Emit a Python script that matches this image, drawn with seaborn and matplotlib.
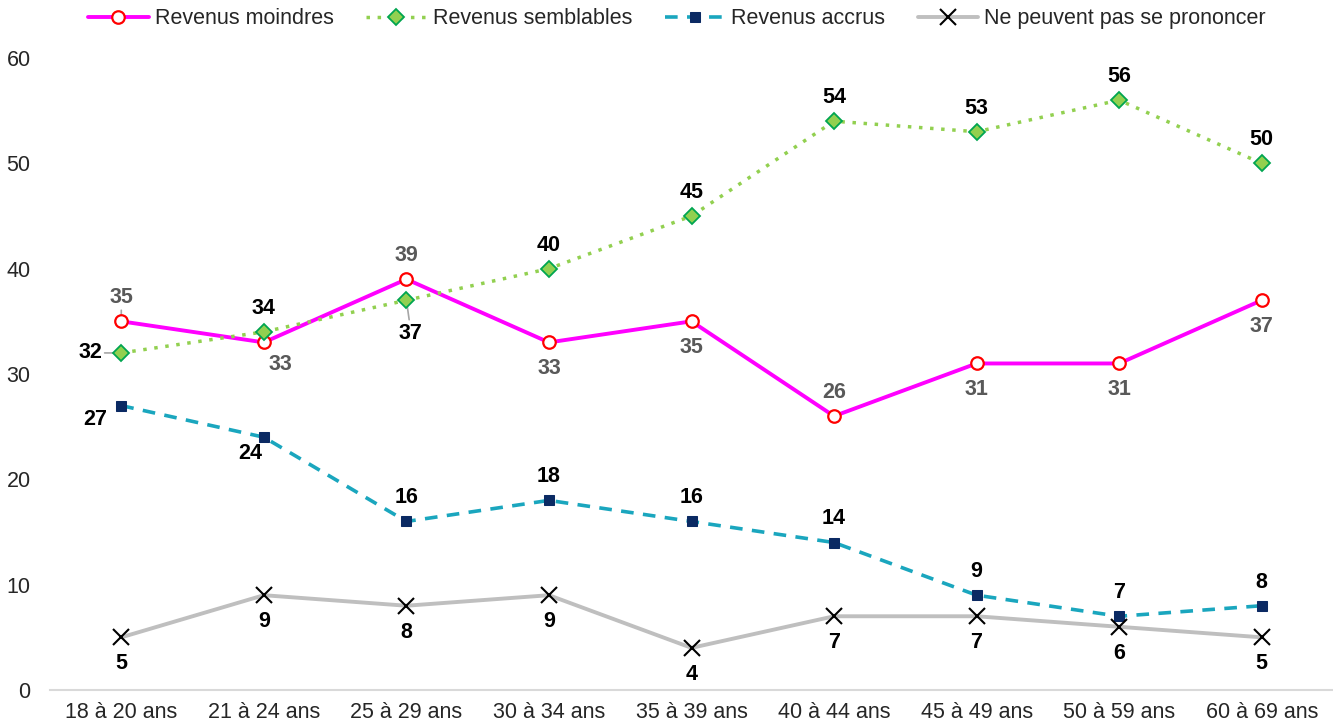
import matplotlib
matplotlib.use("Agg")
import matplotlib.pyplot as plt
import seaborn as sns
import pandas as pd
import numpy as np

categories = ["18 à 20 ans", "21 à 24 ans", "25 à 29 ans", "30 à 34 ans", "35 à 39 ans",
              "40 à 44 ans", "45 à 49 ans", "50 à 59 ans", "60 à 69 ans"]
moindres = [35, 33, 39, 33, 35, 26, 31, 31, 37]
semblables = [32, 34, 37, 40, 45, 54, 53, 56, 50]
accrus = [27, 24, 16, 18, 16, 14, 9, 7, 8]
nsp = [5, 9, 8, 9, 4, 7, 7, 6, 5]
series_names = ["Revenus moindres", "Revenus semblables", "Revenus accrus", "Ne peuvent pas se prononcer"]
y_ticks = [0, 10, 20, 30, 40, 50, 60]

sns.set_theme(style="white")
plt.rcParams['font.family'] = ['Liberation Sans', 'DejaVu Sans']

FS = 15.5

fig = plt.figure(figsize=(13.33, 7.26), dpi=100)
ax = fig.add_axes([50/1333, 36/726, 1 - 50/1333, (690-58)/726])

x = np.arange(len(categories))
df = pd.DataFrame({"x": x, "moindres": moindres, "semblables": semblables,
                   "accrus": accrus, "nsp": nsp})

sns.lineplot(data=df, x="x", y="moindres", ax=ax, color="#FF00FF", linewidth=2.8,
             marker="o", markersize=9, markerfacecolor="white", markeredgecolor="#FF0000",
             markeredgewidth=1.6, label=series_names[0], zorder=4)
sns.lineplot(data=df, x="x", y="semblables", ax=ax, color="#92D050", linewidth=2.5,
             linestyle=(0, (1, 2.2)), marker="D", markersize=8, markerfacecolor="#92D050",
             markeredgecolor="#00A550", markeredgewidth=1.3, label=series_names[1], zorder=4)
sns.lineplot(data=df, x="x", y="accrus", ax=ax, color="#1AA6BE", linewidth=2.6,
             linestyle=(0, (3.5, 2.6)), marker="s", markersize=6.5, markerfacecolor="#0B2A63",
             markeredgecolor="#0B2A63", label=series_names[2], zorder=4)
sns.lineplot(data=df, x="x", y="nsp", ax=ax, color="#BFBFBF", linewidth=2.8,
             marker="x", markersize=11, markeredgecolor="black", markeredgewidth=1.5,
             label=series_names[3], zorder=4)

ax.set_xlim(-0.5, len(categories) - 0.5)
ax.set_ylim(0, 60)
ax.set_yticks(y_ticks)
ax.set_yticklabels([str(t) for t in y_ticks], fontsize=FS)
ax.set_xticks(x)
ax.set_xticklabels(categories, fontsize=FS)
ax.set_xlabel("")
ax.set_ylabel("")
ax.tick_params(axis="x", length=0, pad=9)
ax.tick_params(axis="y", length=0, pad=14)
for s in ["top", "right", "left"]:
    ax.spines[s].set_visible(False)
ax.spines["bottom"].set_color("#D9D9D9")
ax.spines["bottom"].set_linewidth(1.5)
ax.grid(False)

def lab(vals, offsets, color):
    for i, (v, (dx, dy)) in enumerate(zip(vals, offsets)):
        ax.annotate(str(v), (i, v), xytext=(dx, dy), textcoords="offset points",
                    ha="center", va="center", fontsize=FS, fontweight="bold", color=color, zorder=6)

up = (0, 17)
dn = (0, -19)
lab(moindres, [up, (12, -16), up, dn, dn, up, dn, dn, dn], "#595959")
lab(semblables, [(-22, 0), up, (3, -24), up, up, up, up, up, up], "black")
lab(accrus, [(-19, -10), (-10, -12), up, up, up, up, up, up, up], "black")
lab(nsp, [dn] * 9, "black")

# small leader lines seen in the reference
ax.annotate("", (2, semblables[2]), xytext=(2, -14), textcoords="offset points",
            arrowprops=dict(arrowstyle="-", color="#A6A6A6", lw=1.2, shrinkA=0, shrinkB=0), zorder=3)
ax.annotate("", (0, moindres[0]), xytext=(0, 8), textcoords="offset points",
            arrowprops=dict(arrowstyle="-", color="#A6A6A6", lw=1.2, shrinkA=0, shrinkB=0), zorder=3)
ax.annotate("", (0, semblables[0]), xytext=(-12, 0), textcoords="offset points",
            arrowprops=dict(arrowstyle="-", color="#A6A6A6", lw=1.2, shrinkA=0, shrinkB=0), zorder=3)

ax.get_legend().remove()
handles, labels = ax.get_legend_handles_labels()
fig.legend(handles, labels, loc="center", bbox_to_anchor=(0.508, 0.974), ncol=4,
           frameon=False, fontsize=FS, handlelength=2.8, columnspacing=1.5, handletextpad=0.3)

fig.savefig("out.png", dpi=100)
